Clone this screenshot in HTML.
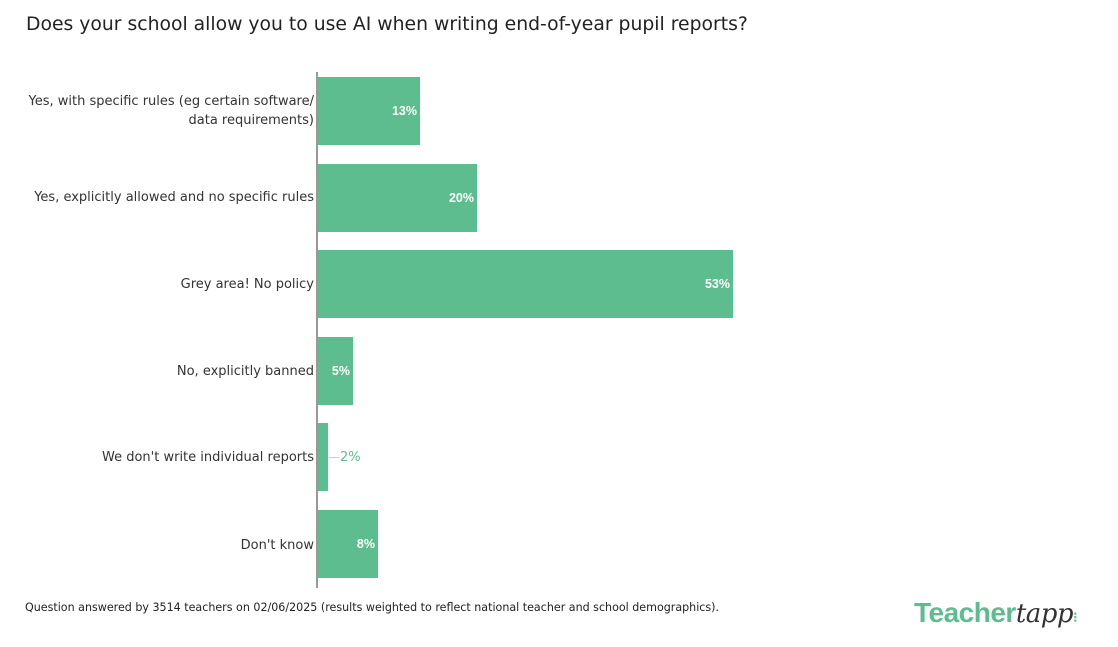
<!DOCTYPE html>
<html><head><style>
body{margin:0;width:1118px;height:647px;background:#fff;font-family:"DejaVu Sans",sans-serif;position:relative;overflow:hidden}
.t{position:absolute;left:26px;top:14px;font-size:18.8px;color:#222}
.ax{position:absolute;left:316px;top:72px;width:2px;height:516px;background:#999}
.bar{position:absolute;left:318px;height:68px;background:#5dbd8f}
.v{position:absolute;right:3px;top:0;line-height:68px;color:#fff;font-weight:bold;font-size:12.5px;font-family:"Liberation Sans",sans-serif}
.l{position:absolute;right:804px;font-size:13px;color:#333;text-align:right;line-height:19px;white-space:nowrap}
.f{position:absolute;left:25px;top:601px;font-size:11.1px;color:#222;white-space:nowrap}
.logo{position:absolute;left:914px;top:597px;font-size:28px;font-weight:bold;color:#5dbd8f;letter-spacing:-0.5px;font-family:"Liberation Sans",sans-serif}
.logo i{font-family:"DejaVu Serif",serif;color:#333;font-weight:normal;font-size:26px}
</style></head><body>
<div class="t">Does your school allow you to use AI when writing end-of-year pupil reports?</div>
<div class="ax"></div>
<div class="l" style="top:92px">Yes, with specific rules (eg certain software/<br>data requirements)</div>
<div class="bar" style="top:77px;width:102px"><span class="v">13%</span></div>
<div class="l" style="top:188px">Yes, explicitly allowed and no specific rules</div>
<div class="bar" style="top:164px;width:159px"><span class="v">20%</span></div>
<div class="l" style="top:275px">Grey area! No policy</div>
<div class="bar" style="top:250px;width:415px"><span class="v">53%</span></div>
<div class="l" style="top:362px">No, explicitly banned</div>
<div class="bar" style="top:337px;width:35px"><span class="v">5%</span></div>
<div class="l" style="top:448px">We don't write individual reports</div>
<div class="bar" style="top:423px;width:10px"></div>
<div style="position:absolute;left:329px;top:457px;width:10px;height:1px;background:#ccc"></div>
<div style="position:absolute;left:340px;top:450px;font-size:13px;color:#5dbd8f">2%</div>
<div class="l" style="top:536px">Don't know</div>
<div class="bar" style="top:510px;width:60px"><span class="v">8%</span></div>
<div class="f">Question answered by 3514 teachers on 02/06/2025 (results weighted to reflect national teacher and school demographics).</div>
<div class="logo">Teacher<i>tapp</i><span style="font-size:14px;color:#5dbd8f">⁝</span></div>
</body></html>
